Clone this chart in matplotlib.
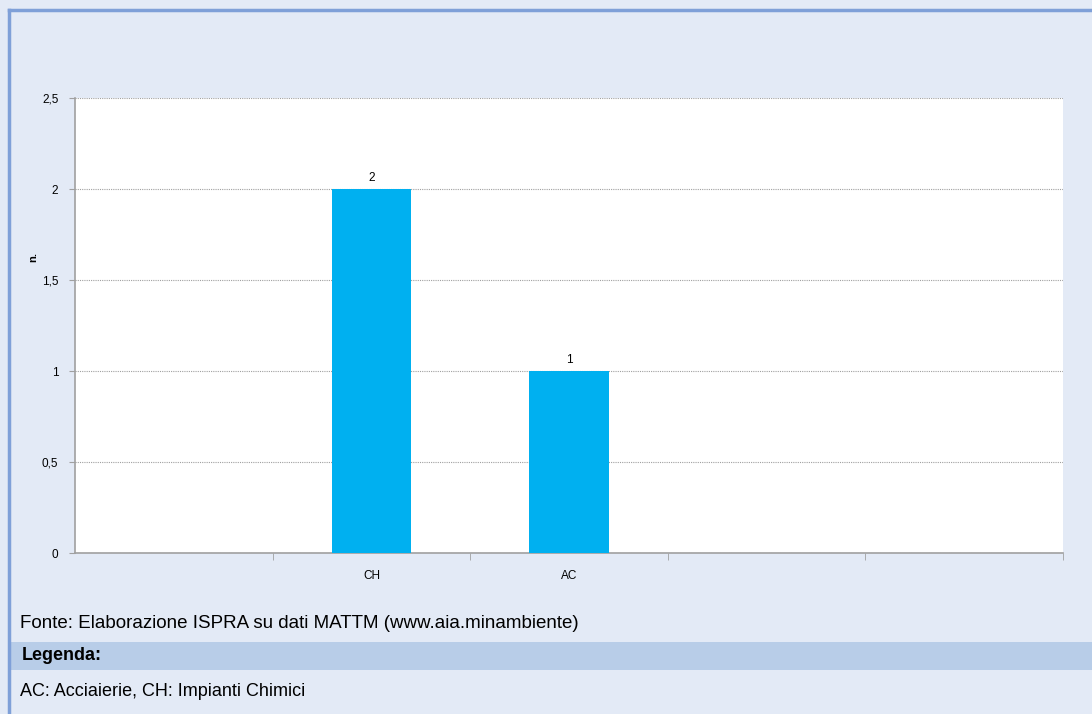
import matplotlib.pyplot as plt
from matplotlib.patches import Rectangle
from matplotlib.lines import Line2D

# categorie e valori (slot vuoti come in origine)
categorie = ["", "CH", "AC", "", ""]
valori = [0, 2, 1, 0, 0]
etichette_y = ["0", "0,5", "1", "1,5", "2", "2,5"]
tick_y = [0, 0.5, 1, 1.5, 2, 2.5]

sfondo = "#E3EAF6"
blu_barre = "#00B0F0"

fig = plt.figure(figsize=(10.92, 7.14), dpi=100)
fig.patch.set_facecolor(sfondo)

W, H = 1092, 714
def fx(px): return px / W
def fy(py): return 1 - py / H

# cornice
fig.add_artist(Line2D([fx(9), fx(9)], [fy(10), 0], color="#7FA0D8", lw=2.5))
fig.add_artist(Line2D([fx(9), 1], [fy(10), fy(10)], color="#7FA0D8", lw=2.5))

ax = fig.add_axes([fx(75), fy(553), fx(1063) - fx(75), fy(98) - fy(553)])
ax.set_facecolor("white")

x = list(range(len(categorie)))
barre = ax.bar(x, valori, width=0.4, color=blu_barre, zorder=3)
for xi, v in zip(x, valori):
    if v > 0:
        ax.text(xi, v + 0.03, str(v), ha="center", va="bottom", fontsize=8.5,
                family="Liberation Sans")

ax.set_xlim(-0.5, len(categorie) - 0.5)
ax.set_ylim(0, 2.5)
ax.set_yticks(tick_y)
ax.set_yticklabels(etichette_y, fontsize=8.5, family="Liberation Sans")
ax.set_xticks(x)
ax.set_xticklabels(categorie, fontsize=8.5, family="Liberation Sans")
ax.set_xticks([i + 0.5 for i in range(len(categorie))], minor=True)
ax.tick_params(axis="x", which="major", length=0, pad=12)
ax.tick_params(axis="x", which="minor", length=5, color="#A0A0A0")
ax.tick_params(axis="y", length=4, color="#A0A0A0", pad=8)
ax.grid(axis="y", linestyle=(0, (1, 1)), color="#A0A0A0", lw=0.8, zorder=0)
for s in ["top", "right"]:
    ax.spines[s].set_visible(False)
ax.spines["left"].set_color("#A0A0A0")
ax.spines["bottom"].set_color("#A0A0A0")
ax.spines["left"].set_linewidth(1.2)
ax.spines["bottom"].set_linewidth(1.2)

fig.text(fx(33), fy(257), "n.", rotation=90, ha="center", va="center",
         fontsize=8, fontweight="bold", family="Liberation Sans")

fig.text(fx(20), fy(624), "Fonte: Elaborazione ISPRA su dati MATTM (www.aia.minambiente)",
         fontsize=13.5, va="center", family="Liberation Sans")

fig.add_artist(Rectangle((fx(10), fy(670)), 1 - fx(10), fy(642) - fy(670),
                         transform=fig.transFigure, facecolor="#B8CDE8", edgecolor="none"))
fig.text(fx(22), fy(656), "Legenda:", fontsize=13, fontweight="bold", va="center",
         family="Liberation Sans")
fig.text(fx(20), fy(691), "AC: Acciaierie, CH: Impianti Chimici", fontsize=13, va="center",
         family="Liberation Sans")

fig.savefig("out.png", dpi=100, facecolor=sfondo)
